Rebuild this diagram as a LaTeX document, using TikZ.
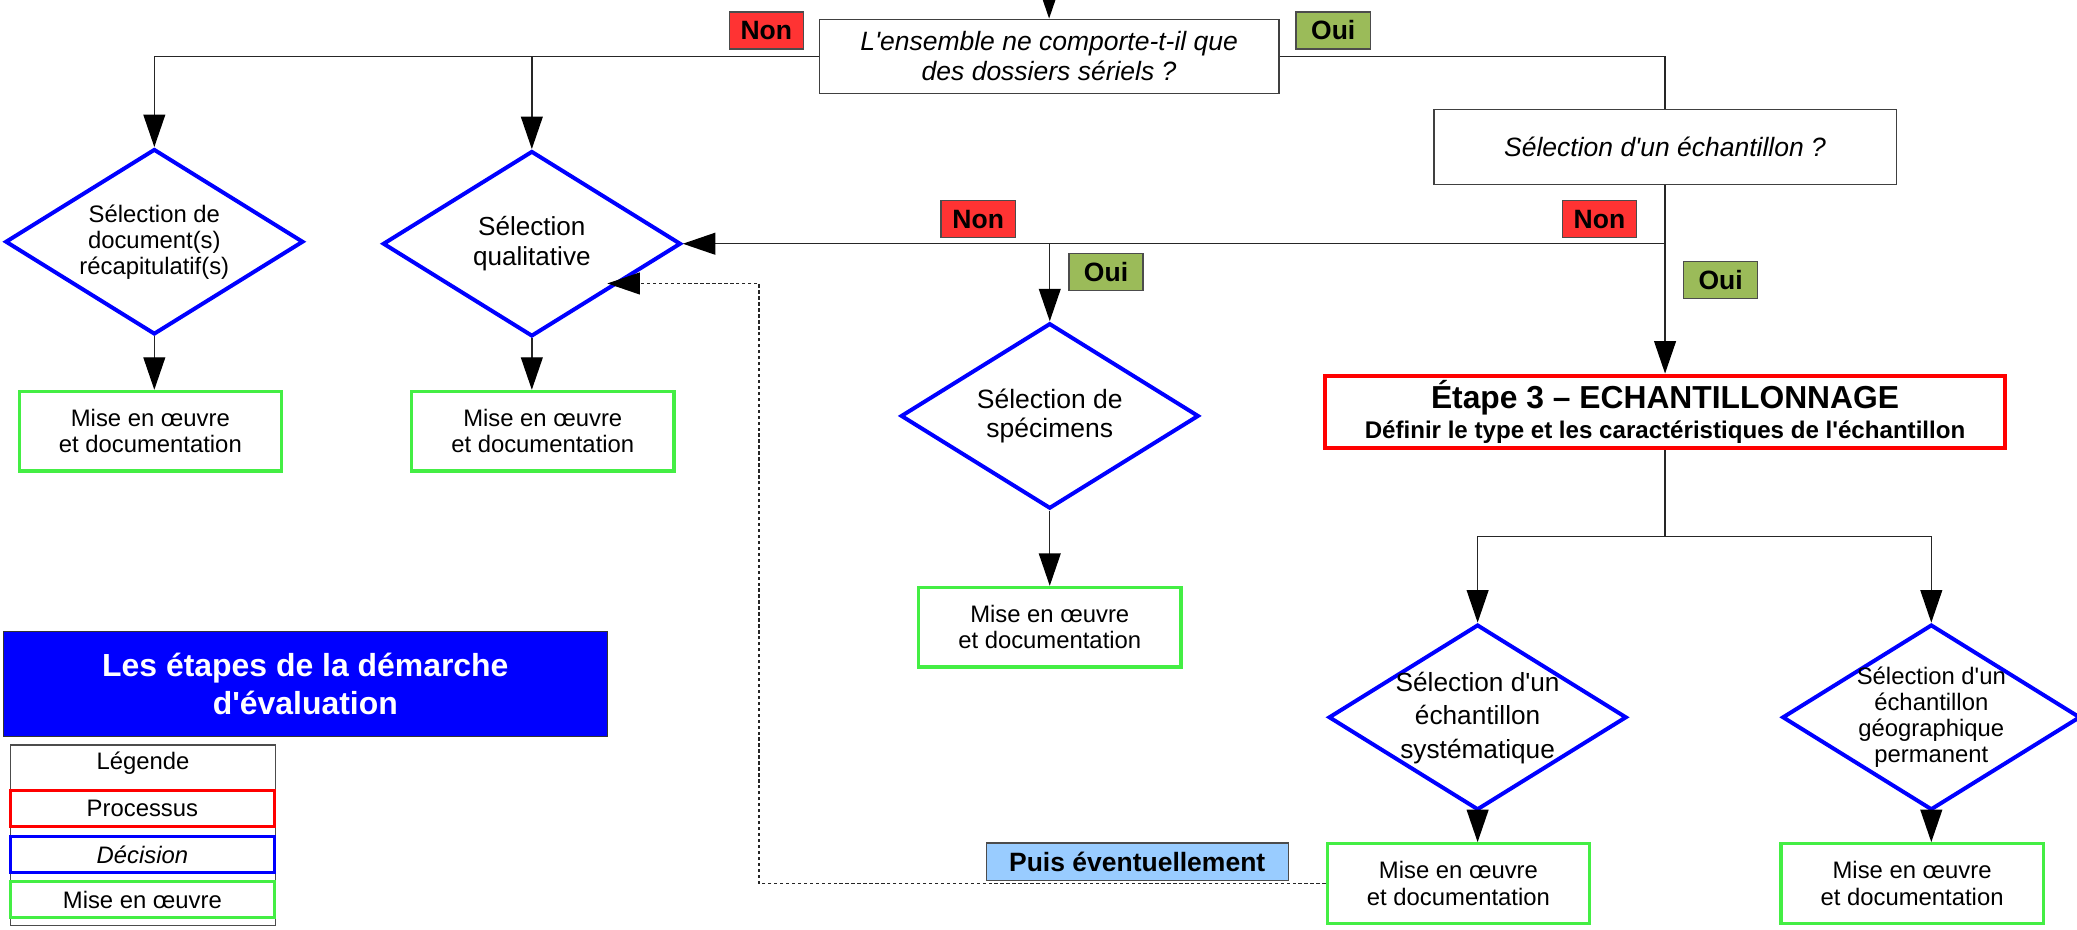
\documentclass[tikz,border=0pt]{standalone}
\usepackage{fontspec}
\setmainfont{Liberation Sans}[Ligatures=TeXOff]
\usetikzlibrary{shapes.geometric,arrows.meta}

\definecolor{nonred}{HTML}{FF3333}
\definecolor{ouigreen}{HTML}{9BBB59}
\definecolor{puisblue}{HTML}{99CCFF}
\definecolor{misegreen}{HTML}{44EE44}

\tikzset{
  question/.style={draw=black!75, line width=1pt, fill=white, align=center,
    font=\fontsize{20}{22.6}\selectfont\itshape},
  decision/.style={diamond, draw=blue, line width=3pt, fill=white,
    minimum width=225pt, minimum height=140pt, inner sep=0pt},
  mise/.style={draw=misegreen, line width=2.5pt, fill=white, minimum width=198pt,
    minimum height=60pt, align=center, font=\fontsize{18}{20}\selectfont},
  tag/.style={draw=black!70, line width=1pt, minimum width=56pt, minimum height=28pt,
    inner sep=0pt, font=\fontsize{20}{22}\selectfont\bfseries},
  non/.style={tag, fill=nonred},
  oui/.style={tag, fill=ouigreen},
  legitem/.style={line width=2.3pt, fill=white, minimum width=199pt, minimum height=27pt,
    inner sep=0pt, font=\fontsize{18}{20}\selectfont},
  conn/.style={draw=black!85, line width=1pt},
  arr/.style={conn, -{Triangle[width=16.5pt,length=24.5pt,color=black]}},
}
\newcommand{\dtxt}[1]{\smash{\makebox[0pt]{\raisebox{-0.3em}{\begin{tabular}{@{}c@{}}#1\end{tabular}}}}}

\begin{document}
\begin{tikzpicture}[x=1pt,y=-1pt]
\useasboundingbox (0,0) rectangle (1568,702);

% questions
\node[question, minimum width=347pt, minimum height=56pt] (q0) at (792,42.5) {L'ensemble ne comporte-t-il que\\des dossiers sériels ?};
\node[question, minimum width=349pt, minimum height=57pt] (q1) at (1257,111) {Sélection d'un échantillon ?};

% decisions
\node[decision, font=\fontsize{18}{19.8}\selectfont] (d1) at (116.5,182.5) {\dtxt{Sélection de\\document(s)\\récapitulatif(s)}};
\node[decision, font=\fontsize{19.7}{21.9}\selectfont] (d2) at (401.5,184) {\dtxt{Sélection\\qualitative}};
\node[decision, font=\fontsize{20}{22.6}\selectfont] (d3) at (792.5,314) {\dtxt{Sélection de\\spécimens}};
\node[decision, font=\fontsize{19.8}{25}\selectfont] (d4) at (1115.5,541.5) {\dtxt{Sélection d'un\\échantillon\\systématique}};
\node[decision, font=\fontsize{18}{19.6}\selectfont] (d5) at (1458,541.5) {\dtxt{Sélection d'un\\échantillon\\géographique\\permanent}};

% etape 3
\node[draw=red, line width=3pt, fill=white, minimum width=513pt, minimum height=55pt, align=center,
  font=\fontsize{18.2}{23}\selectfont\bfseries] (e3) at (1257,311)
  {{\fontsize{24}{27}\selectfont Étape 3 – ECHANTILLONNAGE}\\Définir le type et les caractéristiques de l'échantillon};

% mise en oeuvre
\foreach \n/\x/\y in {g1/113.5/325.5, g2/409.75/325.5, g3/792.5/473.5, g4/1101/667, g5/1443.5/667}
  \node[mise] (\n) at (\x,\y) {Mise en œuvre\\et documentation};

% connectors
\coordinate (in) at (792,-40);
\coordinate (jl) at (116.5,42.5);
\coordinate (jm) at (401.5,42.5);
\draw[arr] (in) -- (q0.north);
\draw[conn] (q0.west) -- (jl);
\draw[arr] (jl) -- (d1.north);
\draw[arr] (jm) -- (d2.north);
\draw[conn] (q0.east) -| (q1.north);

\coordinate (jr) at (1257,184);
\coordinate (jc) at (792.5,184);
\draw[conn] (q1.south) -- (jr);
\draw[arr] (jr) -- (d2.east);
\draw[arr] (jc) -- (d3.north);
\draw[arr] (jr) -- (e3.north);

\coordinate (je) at (1257,405);
\coordinate (je4) at (1115.5,405);
\coordinate (je5) at (1458,405);
\draw[conn] (e3.south) -- (je);
\draw[conn] (je4) -- (je5);
\draw[arr] (je4) -- (d4.north);
\draw[arr] (je5) -- (d5.north);

\foreach \i in {1,...,5}
  \draw[arr] (d\i.south) -- (d\i.south |- g\i.north);

\coordinate (fa) at (573,667);
\coordinate (fb) at (573,214);
\draw[arr, dash pattern=on 2.5pt off 2pt] (g4.west) -- (fa) -- (fb) -- (fb -| d2.south east);

% labels
\node[non] (n1) at (578.5,23) {Non};
\node[oui] (o1) at (1006.5,23) {Oui};
\node[non] (n2) at (738.5,165.5) {Non};
\node[non] (n3) at (1207.5,165.5) {Non};
\node[oui] (o2) at (835,205.5) {Oui};
\node[oui] (o3) at (1299,211.5) {Oui};
\node[tag, fill=puisblue, minimum width=228pt] (pe) at (858.5,650.5) {Puis éventuellement};

% titre et legende
\node[draw=black!80, line width=1pt, fill=blue, minimum width=456pt, minimum height=79.5pt, align=center,
  text=white, font=\fontsize{24.1}{28.4}\selectfont\bfseries] (titre) at (230.5,516.25) {Les étapes de la démarche\\d'évaluation};
\node[draw=black!70, line width=1pt, minimum width=200pt, minimum height=136pt] (leg) at (107.75,630.5) {};
\node[font=\fontsize{18}{20}\selectfont] (legt) at (108,576) {Légende};
\node[legitem, draw=red] (lp) at (107.5,610.5) {Processus};
\node[legitem, draw=blue] (ld) at (107.5,645.25) {\itshape Décision};
\node[legitem, draw=misegreen] (lm) at (107.5,679.25) {Mise en œuvre};
\end{tikzpicture}
\end{document}
